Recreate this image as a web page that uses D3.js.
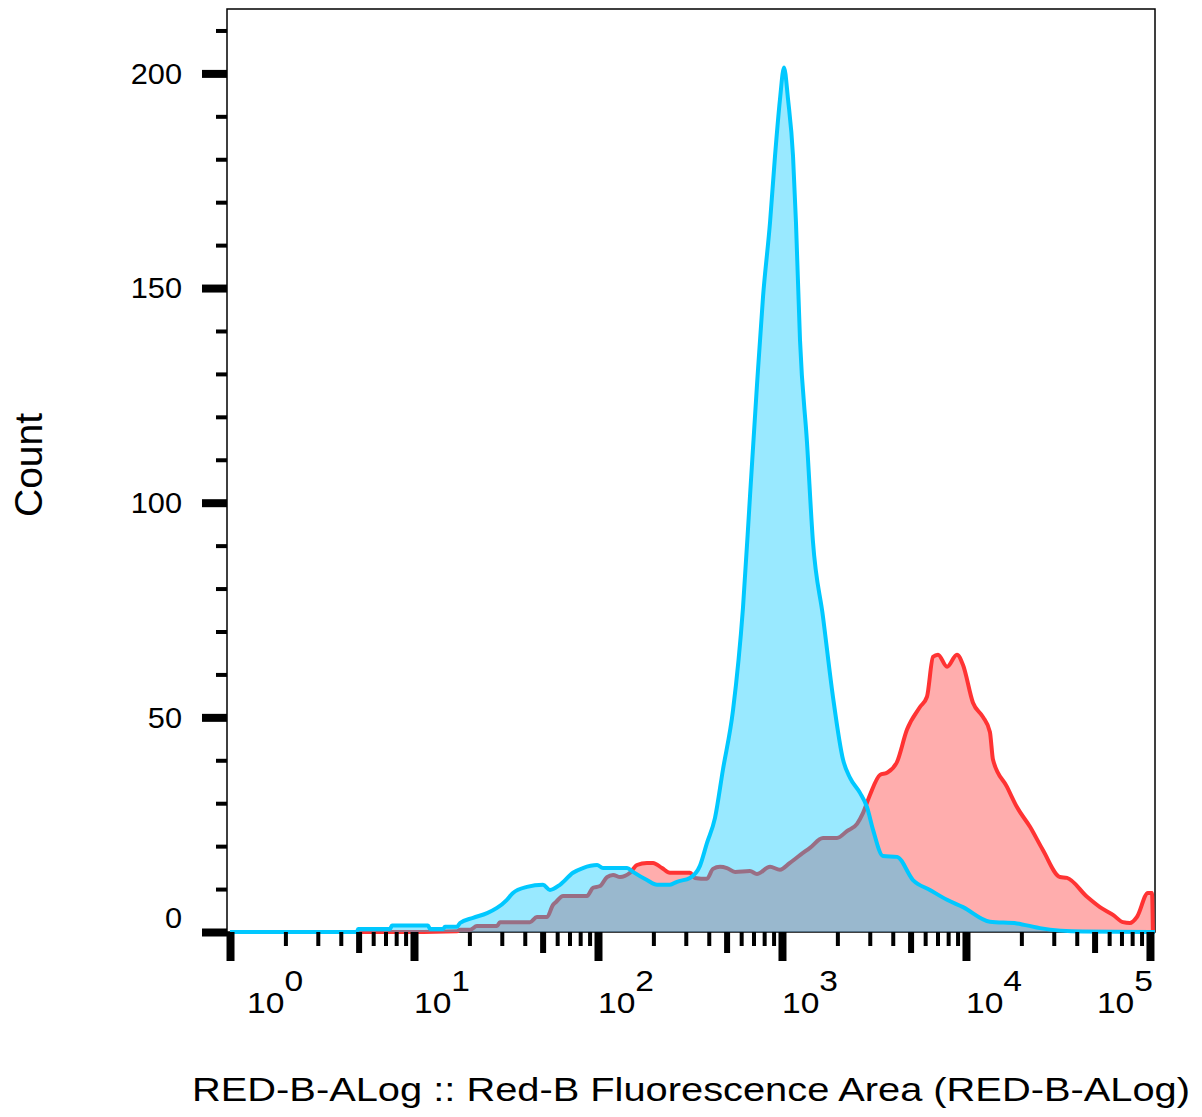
<!DOCTYPE html>
<html><head><meta charset="utf-8">
<script src="https://cdn.jsdelivr.net/npm/d3@7"></script>
<style>
body{margin:0;background:#fff}
text{font-family:"Liberation Sans",Arial,sans-serif;fill:#000}
</style>
</head><body>
<svg id="chart" width="1202" height="1117"></svg>
<script>
// x positions are log10 of fluorescence (decades), y are event counts
const cyanLogX = [0,0.690,0.696,0.870,0.880,1.076,1.087,1.158,1.168,1.234,1.250,1.321,1.397,1.451,1.505,1.538,1.614,1.701,1.739,1.793,1.864,1.918,1.995,2.027,2.158,2.190,2.266,2.321,2.391,2.429,2.500,2.554,2.592,2.636,2.679,2.734,2.788,2.826,2.864,2.897,2.935,2.962,2.989,3.011,3.033,3.060,3.076,3.098,3.136,3.168,3.223,3.277,3.332,3.370,3.424,3.462,3.495,3.549,3.625,3.712,3.804,3.897,3.984,4.130,4.277,4.402,4.636,5.0,5.027];
const cyanCount = [0,0,0.7,0.7,1.5,1.5,0.7,0.7,1.2,1.2,2.1,3.3,4.4,5.6,7.5,9.1,10.5,11.0,9.8,11.0,13.8,14.9,15.6,14.9,14.9,14.0,12.1,11.0,11.0,11.7,12.6,15.4,20.7,26.6,37.8,51.7,75.5,101.4,127.3,148.0,165.3,180.7,193.9,201.4,193.9,180.7,165.3,137.8,114.0,91.1,73.4,54.8,40.1,35.9,32.4,29.1,23.8,17.7,17.5,12.1,9.8,7.5,5.8,2.4,2.0,0.9,0.1,0,0];

const redLogX = [0,0.870,1.234,1.250,1.304,1.342,1.451,1.467,1.630,1.668,1.723,1.755,1.772,1.810,1.940,1.973,2.011,2.049,2.082,2.120,2.174,2.212,2.266,2.299,2.348,2.391,2.500,2.527,2.592,2.625,2.663,2.701,2.745,2.826,2.864,2.935,2.989,3.043,3.098,3.152,3.223,3.299,3.353,3.408,3.440,3.478,3.533,3.571,3.625,3.679,3.750,3.788,3.821,3.848,3.897,3.951,3.984,4.038,4.092,4.130,4.147,4.223,4.277,4.348,4.418,4.511,4.549,4.658,4.728,4.799,4.853,4.891,4.929,4.989,5.011,5.016];
const redCount = [0,0,0.2,0.5,0.5,1.4,1.4,2.3,2.3,3.5,3.5,6.3,7.0,8.4,8.4,10.3,10.7,12.8,13.3,12.8,13.8,15.6,16.1,16.1,14.9,13.8,13.8,12.6,12.4,14.7,15.2,14.9,14.0,14.2,13.5,15.2,14.5,16.1,17.9,19.6,21.9,21.9,23.5,25.2,27.7,31.9,36.6,37.1,39.6,47.1,52.4,54.8,64.1,64.6,61.8,64.6,62.2,53.4,50.1,46.6,40.1,33.8,29.1,24.5,19.1,12.8,12.6,8.2,5.8,4.0,2.3,2.1,3.5,9.1,9.1,0];

const yMajorTicks = [0,50,100,150,200];
const yMinorTicks = [10,20,30,40,60,70,80,90,110,120,130,140,160,170,180,190,210];
const xDecades = [0,1,2,3,4,5];
const xMinorMultipliers = [2,3,4,6,7,8,9];
const xMediumMultipliers = [5];
const xTitle = "RED-B-ALog :: Red-B Fluorescence Area (RED-B-ALog)";
const yTitle = "Count";

const cyanColor = "#00C8FF", redColor = "#FF3333";

const svg = d3.select("#chart");
const x = d3.scaleLog().domain([0.963, 106500]).range([227, 1155]);
const y = d3.scaleLinear().domain([0, 215]).range([932, 9]);

const cyan = cyanLogX.map((e,i)=>({v:Math.pow(10,e), c:cyanCount[i]}));
const red = redLogX.map((e,i)=>({v:Math.pow(10,e), c:redCount[i]}));

svg.append("clipPath").attr("id","clip").append("rect")
  .attr("x",227).attr("y",9).attr("width",928).attr("height",925);

// frame
svg.append("rect").attr("x",227).attr("y",9).attr("width",928).attr("height",923)
  .attr("fill","none").attr("stroke","#000").attr("stroke-width",1.5);

const curve = d3.curveMonotoneX;
const area = d3.area().curve(curve).x(d=>x(d.v)).y0(y(0)).y1(d=>y(d.c));
const line = d3.line().curve(curve).x(d=>x(d.v)).y(d=>y(d.c));
const g = svg.append("g").attr("clip-path","url(#clip)");

g.append("path").datum(red).attr("d",area).attr("fill",redColor).attr("fill-opacity",0.4);
g.append("path").datum(red).attr("d",line).attr("fill","none").attr("stroke",redColor).attr("stroke-width",4).attr("stroke-linejoin","round");
g.append("path").datum(cyan).attr("d",area).attr("fill",cyanColor).attr("fill-opacity",0.4);
g.append("path").datum(cyan).attr("d",line).attr("fill","none").attr("stroke",cyanColor).attr("stroke-width",4).attr("stroke-linejoin","round");

// x axis ticks
const xMajor = xDecades.map(k=>Math.pow(10,k));
const xMedium = [], xMinor = [];
xDecades.slice(0,-1).forEach(k=>{
  xMediumMultipliers.forEach(m=>xMedium.push(m*Math.pow(10,k)));
  xMinorMultipliers.forEach(m=>xMinor.push(m*Math.pow(10,k)));
});
function tickAxis(axis, values, size, width, transform){
  const gg = svg.append("g").attr("transform",transform)
    .call(axis.tickValues(values).tickSize(size).tickFormat(""));
  gg.select(".domain").remove();
  gg.selectAll(".tick line").attr("stroke","#000").attr("stroke-width",width);
  return gg;
}
tickAxis(d3.axisBottom(x), xMinor, 14, 4, "translate(0,932)");
tickAxis(d3.axisBottom(x), xMedium, 21, 6, "translate(0,932)");
tickAxis(d3.axisBottom(x), xMajor, 29, 8, "translate(0,932)");

tickAxis(d3.axisLeft(y), yMinorTicks, 11, 4, "translate(227,0)");
tickAxis(d3.axisLeft(y), yMajorTicks, 25, 8, "translate(227,0)");

// y labels
svg.append("g").selectAll("text").data(yMajorTicks).join("text")
  .attr("transform", d=>`translate(182,${d===0 ? y(d)-14 : y(d)}) scale(1.06,1)`)
  .attr("text-anchor","end").attr("dy","0.36em")
  .style("font-size","29px").text(d=>d);

// x labels 10^k
const xl = svg.append("g").selectAll("g").data(xDecades).join("g")
  .attr("transform", (k,i)=>{
    let px = x(Math.pow(10,k));
    if (i===0) px += 17;
    return `translate(${px},1013) scale(1.12,1)`;
  });
xl.append("text").attr("text-anchor",(k,i)=> i===xDecades.length-1 ? "end" : "start")
  .style("font-size","30px")
  .each(function(k,i){
    const t = d3.select(this);
    if (i===xDecades.length-1) t.attr("x", (1153 - x(Math.pow(10,k)))/1.12);
    t.append("tspan").text("10");
    t.append("tspan").attr("dy",-22).text(k);
  });

// axis titles
svg.append("text").attr("x",691).attr("y",1101).attr("text-anchor","middle")
  .attr("textLength",998).attr("lengthAdjust","spacingAndGlyphs")
  .style("font-size","34px").text(xTitle);
svg.append("text").attr("transform","translate(42,465) rotate(-90)").attr("text-anchor","middle")
  .style("font-size","39px").text(yTitle);
</script>
</body></html>
